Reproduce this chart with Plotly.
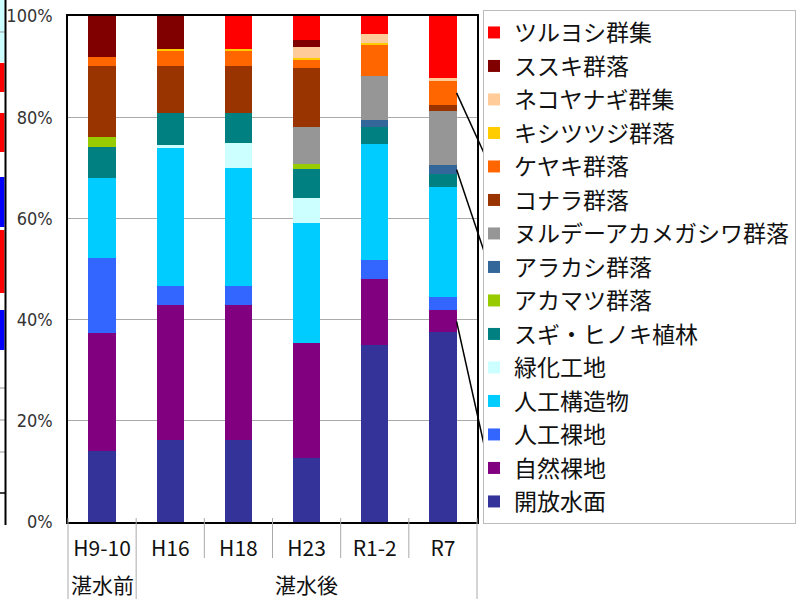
import plotly.graph_objects as go

# ---- data ----
periods = ["H9-10", "H16", "H18", "H23", "R1-2", "R7"]
phases = ["湛水前", "湛水後", "湛水後", "湛水後", "湛水後", "湛水後"]

# stacking order: bottom -> top
series_names = [
    "開放水面", "自然裸地", "人工裸地", "人工構造物", "緑化工地", "スギ・ヒノキ植林",
    "アカマツ群落", "アラカシ群落", "ヌルデーアカメガシワ群落", "コナラ群落",
    "ケヤキ群落", "キシツツジ群落", "ネコヤナギ群集", "ススキ群落", "ツルヨシ群集",
]
kaihou_suimen = [14.0, 16.3, 16.3, 12.7, 34.9, 37.5]
shizen_rachi = [23.3, 26.5, 26.5, 22.6, 13.1, 4.3]
jinko_rachi = [14.8, 3.9, 3.9, 0.0, 3.7, 2.6]
jinko_kouzou = [15.8, 27.3, 23.2, 23.7, 23.1, 21.8]
ryokka = [0.0, 0.6, 5.1, 5.1, 0.0, 0.0]
sugi_hinoki = [6.2, 6.2, 5.8, 5.7, 3.3, 2.6]
akamatsu = [1.9, 0.0, 0.0, 1.0, 0.0, 0.0]
arakashi = [0.0, 0.0, 0.0, 0.0, 1.3, 1.7]
nurude = [0.0, 0.0, 0.0, 7.3, 8.8, 10.8]
konara = [14.2, 9.3, 9.3, 11.6, 0.0, 1.2]
keyaki = [1.7, 3.0, 3.1, 1.6, 6.1, 4.6]
kishitsutsuji = [0.0, 0.3, 0.2, 0.4, 0.3, 0.0]
nekoyanagi = [0.0, 0.0, 0.0, 2.2, 1.8, 0.7]
susuki = [8.1, 6.6, 0.0, 1.4, 0.0, 0.0]
tsuruyoshi = [0.0, 0.0, 6.6, 4.7, 3.6, 12.2]

series_values = [
    kaihou_suimen, shizen_rachi, jinko_rachi, jinko_kouzou, ryokka, sugi_hinoki,
    akamatsu, arakashi, nurude, konara, keyaki, kishitsutsuji, nekoyanagi,
    susuki, tsuruyoshi,
]
series_colors = [
    "#333399", "#800080", "#3366FF", "#00CCFF", "#CCFFFF", "#008080",
    "#99CC00", "#336699", "#969696", "#993300", "#FF6600", "#FFCC00",
    "#FFCC99", "#800000", "#FF0000",
]
y_tick_vals = [0, 20, 40, 60, 80, 100]
y_tick_text = ["0%", "20%", "40%", "60%", "80%", "100%"]
callout_series = ["ケヤキ群落", "アラカシ群落", "自然裸地"]

JP = "Noto Sans CJK JP"
W, H = 807, 599
ML, MR, MT, MB = 68, 330, 16, 77
PW, PH = W - ML - MR, H - MT - MB
N = len(periods)


def px(xp):
    return (xp - ML) / PW


def py(yp):
    return (H - MB - yp) / PH


fig = go.Figure()
for i, (name, vals, col) in enumerate(zip(series_names, series_values, series_colors)):
    fig.add_trace(go.Bar(
        name=name,
        legendgroup=name,
        legendrank=1000 - i,
        x=periods,
        y=vals,
        marker=dict(color=col, line=dict(width=0)),
        width=0.4,
    ))

shapes = []
annotations = []

# category-axis ticks between periods (short) and phase dividers (long)
AX_GRAY = "#AAAAAA"
group_starts = [i for i in range(N) if i == 0 or phases[i] != phases[i - 1]]
for b in range(1, N):
    if b not in group_starts:
        shapes.append(dict(type="line", xref="paper", yref="paper",
                           x0=b / N, x1=b / N, y0=py(518), y1=py(558),
                           line=dict(color=AX_GRAY, width=1)))
for b in group_starts + [N]:
    shapes.append(dict(type="line", xref="paper", yref="paper",
                       x0=b / N, x1=b / N, y0=py(518), y1=py(H),
                       line=dict(color=AX_GRAY, width=1)))
# phase labels centred under their group of periods
for k, s in enumerate(group_starts):
    e = group_starts[k + 1] if k + 1 < len(group_starts) else N
    annotations.append(dict(xref="paper", yref="paper", x=(s + e) / 2 / N, y=py(584),
                            text=phases[s], showarrow=False, xanchor="center", yanchor="middle",
                            font=dict(family=JP, size=21, color="#111111")))

# callout lines from R7 segments to legend markers
legend_marker_y = {"ケヤキ群落": 164, "アラカシ群落": 266, "自然裸地": 467}
last = N - 1
bar_right = (last + 0.5 + 0.2) / N
for nm in callout_series:
    idx = series_names.index(nm)
    base = sum(series_values[k][last] for k in range(idx))
    mid = base + series_values[idx][last] / 2
    shapes.append(dict(type="line", xref="paper", yref="paper",
                       x0=bar_right, y0=mid / 100,
                       x1=px(489), y1=py(legend_marker_y[nm]),
                       line=dict(color="black", width=1.5)))

# cropped neighbouring chart on the left edge (decoration)
strip = [(0, 62, "#CCFFFF"), (63, 92, "#FF0000"), (113, 152, "#FF0000"),
         (177, 227, "#0000FF"), (230, 293, "#FF0000"), (310, 350, "#0000FF")]
for y0, y1, c in strip:
    shapes.append(dict(type="rect", xref="paper", yref="paper", layer="below",
                       x0=px(0), x1=px(4.5), y0=py(y1), y1=py(y0),
                       fillcolor=c, line=dict(width=0)))
for yy in [32, 388, 420, 452]:
    shapes.append(dict(type="line", xref="paper", yref="paper",
                       x0=px(0), x1=px(5), y0=py(yy), y1=py(yy),
                       line=dict(color="#999999", width=1)))
shapes.append(dict(type="line", xref="paper", yref="paper",
                   x0=px(0), x1=px(5), y0=py(493), y1=py(493),
                   line=dict(color="black", width=1.5)))
shapes.append(dict(type="line", xref="paper", yref="paper",
                   x0=px(5.5), x1=px(5.5), y0=py(0), y1=py(525),
                   line=dict(color="black", width=2)))

fig.update_layout(
    width=W, height=H,
    margin=dict(l=ML, r=MR, t=MT, b=MB, autoexpand=False),
    barmode="stack",
    plot_bgcolor="white", paper_bgcolor="white",
    font=dict(family=JP, color="#111111"),
    shapes=shapes,
    annotations=annotations,
    legend=dict(
        x=px(483), y=py(10), xanchor="left", yanchor="top",
        traceorder="grouped", tracegroupgap=0.6,
        indentation=-10,
        font=dict(family=JP, size=23, color="#111111"),
        bordercolor="#BBBBBB", borderwidth=1, bgcolor="white",
        itemclick=False, maxheight=590,
    ),
    bargap=0.6,
)
fig.update_xaxes(
    type="category", automargin=False, tickangle=0,
    showline=True, linecolor="black", linewidth=1.5, mirror=True,
    ticks="", ticklabelstandoff=7,
    tickfont=dict(family=JP, size=21, color="#111111"),
    showgrid=False,
)
fig.update_yaxes(
    range=[0, 100], automargin=False,
    tickvals=y_tick_vals, ticktext=y_tick_text,
    showline=True, linecolor="black", linewidth=1.5, mirror=True,
    showgrid=True, gridcolor="#AAAAAA", gridwidth=1,
    ticks="", ticklabelstandoff=10,
    tickfont=dict(family="Liberation Sans Narrow, DejaVu Sans Condensed, Arial", size=18, color="#333333"),
    zeroline=False,
)

fig.write_html(
    "out.html",
    config={"displayModeBar": False},
    post_script="document.body.style.margin='0';document.body.style.padding='0';",
)
